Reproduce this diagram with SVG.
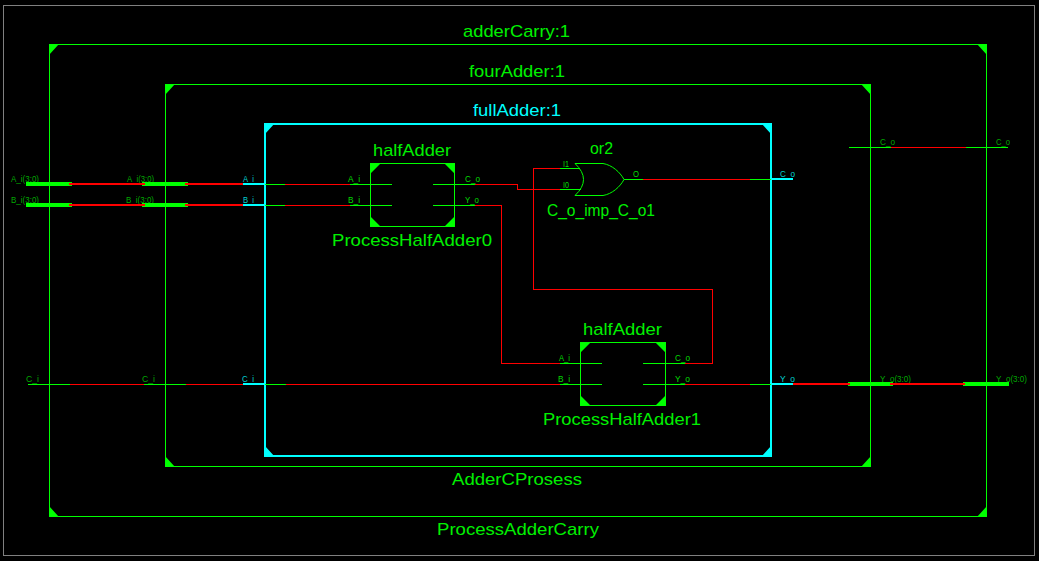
<svg xmlns="http://www.w3.org/2000/svg" width="1039" height="561" viewBox="0 0 1039 561">
<style>
text{font-family:"Liberation Sans",Arial,sans-serif}
.t{font-size:17px;fill:#00f000}
.tc{font-size:17px;fill:#00ffff}
.s{font-size:9px;fill:#00a800}
.h{font-size:9px;fill:#00dc00}
.c{font-size:9px;fill:#00d0d0}
.box{fill:none;stroke:#00ff00;stroke-width:1;shape-rendering:crispEdges}
.cbox{fill:none;stroke:#00ffff;stroke-width:2;shape-rendering:crispEdges}
.g{fill:#00ff00}
.cy{fill:#00ffff}
.w{fill:none;stroke:#00ff00;stroke-width:1;shape-rendering:crispEdges}
.r{fill:none;stroke:#ff0000;stroke-width:1;shape-rendering:crispEdges}
.bg{fill:none;stroke:#00ff00;stroke-width:4;shape-rendering:crispEdges}
.br{fill:none;stroke:#ff0000;stroke-width:2;shape-rendering:crispEdges}
.bc{fill:none;stroke:#00ffff;stroke-width:2;shape-rendering:crispEdges}
</style>
<rect width="1039" height="561" fill="#000"/>
<rect x="3.5" y="5.500" width="1031" height="550" fill="none" stroke="#808080"/>
<g id="adderCarry">
<rect class="box" x="49.500" y="44.500" width="937" height="472"/>
<path class="g" d="M49 44h10l-10 11zM987 44h-10l10 11zM49 517h10l-10-11zM987 517h-10l10-11z"/>
<text class="t" x="463" y="37" textLength="107" lengthAdjust="spacingAndGlyphs">adderCarry:1</text>
<text class="t" x="437" y="535" textLength="162" lengthAdjust="spacingAndGlyphs">ProcessAdderCarry</text>
<text class="s" x="11" y="182" textLength="28" lengthAdjust="spacingAndGlyphs">A_i(3:0)</text>
<text class="s" x="11" y="203" textLength="28" lengthAdjust="spacingAndGlyphs">B_i(3:0)</text>
<text class="s" x="26" y="382" textLength="13" lengthAdjust="spacingAndGlyphs">C_i</text>
<text class="s" x="996" y="145" textLength="14" lengthAdjust="spacingAndGlyphs">C_o</text>
<text class="s" x="996" y="382" textLength="31" lengthAdjust="spacingAndGlyphs">Y_o(3:0)</text>
</g>
<g id="fourAdder">
<rect class="box" x="165.500" y="84.500" width="705" height="382"/>
<path class="g" d="M165 84h10l-10 11zM871 84h-10l10 11zM165 467h10l-10-11zM871 467h-10l10-11z"/>
<text class="t" x="469" y="77" textLength="96" lengthAdjust="spacingAndGlyphs">fourAdder:1</text>
<text class="t" x="452" y="485" textLength="130" lengthAdjust="spacingAndGlyphs">AdderCProsess</text>
<text class="s" x="127" y="182" textLength="27" lengthAdjust="spacingAndGlyphs">A_i(3:0)</text>
<text class="s" x="126" y="203" textLength="28" lengthAdjust="spacingAndGlyphs">B_i(3:0)</text>
<text class="s" x="142" y="382" textLength="13" lengthAdjust="spacingAndGlyphs">C_i</text>
<text class="s" x="880" y="145" textLength="15" lengthAdjust="spacingAndGlyphs">C_o</text>
<text class="s" x="880" y="382" textLength="31" lengthAdjust="spacingAndGlyphs">Y_o(3:0)</text>
</g>
<g id="fullAdder">
<rect class="cbox" x="265" y="124" width="506" height="332"/>
<path class="cy" d="M264 123h11l-10 11zM772 123h-11l10 11zM264 457h11l-10-11zM772 457h-11l10-11z"/>
<text class="tc" x="473" y="116" textLength="88" lengthAdjust="spacingAndGlyphs">fullAdder:1</text>
<text class="c" x="243" y="182" textLength="11" lengthAdjust="spacingAndGlyphs">A_i</text>
<text class="c" x="243" y="203" textLength="11" lengthAdjust="spacingAndGlyphs">B_i</text>
<text class="c" x="242" y="382" textLength="12" lengthAdjust="spacingAndGlyphs">C_i</text>
<text class="c" x="780" y="177" textLength="15" lengthAdjust="spacingAndGlyphs">C_o</text>
<text class="c" x="780" y="382" textLength="15" lengthAdjust="spacingAndGlyphs">Y_o</text>
</g>
<g id="connectors">
<path class="bg" d="M26 184h46M142 184h46M26 205h46M142 205h46M848 384h45M963 384h46"/>
<path class="br" d="M69 184h76M185 184h58M69 205h76M185 205h58M792 384h58M890 384h75"/>
<path class="bc" d="M243 184h22M243 205h22M243 384h22M771 179h22M771 384h22"/>
<path class="w" d="M265 184.500h20M265 205.500h20M265 384.500h21M750 179.500h21M750 384.500h21M28 384.500h42M144 384.500h42M849 147.500h42M966 147.500h42"/>
<path class="r" d="M70 384.500h74M186 384.500h57M891 147.500h75"/>
<path class="r" d="M285 184.500h65M285 205.500h65M286 384.500h274M643 179.500h107M475 184.500h42.500v5H560M475 205.500h26.500v158H560M560 168.500h-26.500v121h179v74H685M685 384.500h65"/>
</g>
<g id="ProcessHalfAdder0">
<rect class="box" x="370.500" y="163.500" width="84" height="63"/>
<path class="g" d="M370 163h11l-11 11zM455 163h-11l11 11zM370 227h11l-11-11zM455 227h-11l11-11z"/>
<path class="w" d="M350 184.500h42M350 205.500h42M433 184.500h42M433 205.500h42"/>
<text class="t" x="373" y="156" textLength="78" lengthAdjust="spacingAndGlyphs">halfAdder</text>
<text class="t" x="332" y="246" textLength="160" lengthAdjust="spacingAndGlyphs">ProcessHalfAdder0</text>
<text class="h" x="348" y="182" textLength="12" lengthAdjust="spacingAndGlyphs">A_i</text>
<text class="h" x="348" y="203" textLength="12" lengthAdjust="spacingAndGlyphs">B_i</text>
<text class="h" x="465" y="182" textLength="15" lengthAdjust="spacingAndGlyphs">C_o</text>
<text class="h" x="465" y="203" textLength="14" lengthAdjust="spacingAndGlyphs">Y_o</text>
</g>
<g id="C_o_imp_C_o1">
<path fill="none" stroke="#00ff00" d="M575 163.500H603C612 165 620 172 624 179.500C620 187 612 194 603 195.500H575Q592 179.500 575 163.500Z"/>
<path class="w" d="M560 168.500h20M560 189.500h21M624 179.500h19"/>
<text class="t" x="590" y="154" textLength="23" lengthAdjust="spacingAndGlyphs">or2</text>
<text class="t" x="547" y="216" textLength="108" lengthAdjust="spacingAndGlyphs">C_o_imp_C_o1</text>
<text class="h" x="563" y="167" textLength="6" lengthAdjust="spacingAndGlyphs">I1</text>
<text class="h" x="563" y="188" textLength="6" lengthAdjust="spacingAndGlyphs">I0</text>
<text class="h" x="633" y="177" textLength="6" lengthAdjust="spacingAndGlyphs">O</text>
</g>
<g id="ProcessHalfAdder1">
<rect class="box" x="580.500" y="342.500" width="85" height="63"/>
<path class="g" d="M580 342h11l-11 11zM666 342h-11l11 11zM580 406h11l-11-11zM666 406h-11l11-11z"/>
<path class="w" d="M560 363.500h42M560 384.500h42M643 363.500h42M643 384.500h42"/>
<text class="t" x="583" y="335" textLength="79" lengthAdjust="spacingAndGlyphs">halfAdder</text>
<text class="t" x="543" y="425" textLength="158" lengthAdjust="spacingAndGlyphs">ProcessHalfAdder1</text>
<text class="h" x="559" y="361" textLength="11" lengthAdjust="spacingAndGlyphs">A_i</text>
<text class="h" x="558" y="382" textLength="12" lengthAdjust="spacingAndGlyphs">B_i</text>
<text class="h" x="675" y="361" textLength="15" lengthAdjust="spacingAndGlyphs">C_o</text>
<text class="h" x="675" y="382" textLength="15" lengthAdjust="spacingAndGlyphs">Y_o</text>
</g>
</svg>
